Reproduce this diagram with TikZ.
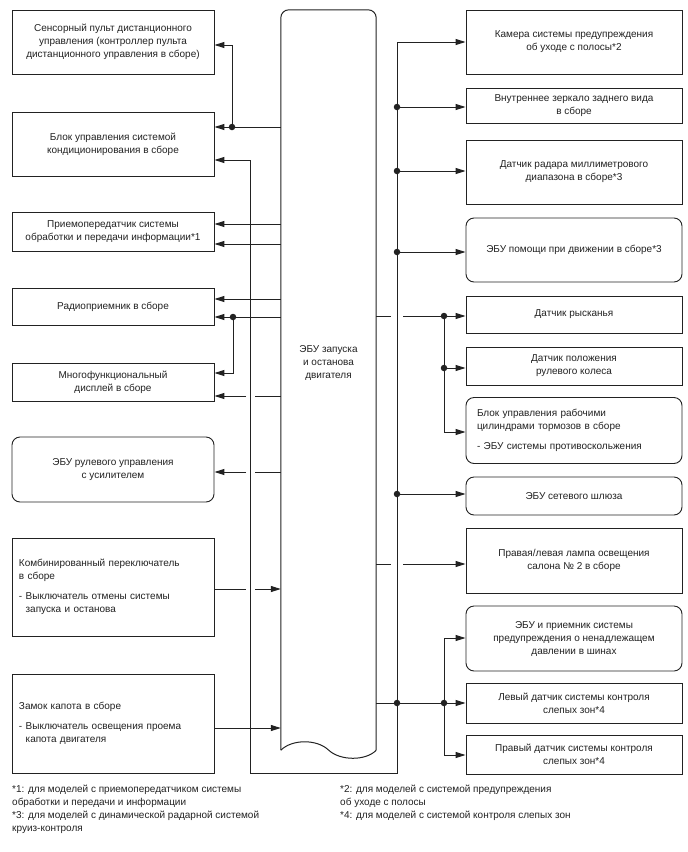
\documentclass[tikz,border=0pt]{standalone}
\usepackage{fontspec}
\setmainfont{Liberation Sans}
\usetikzlibrary{arrows.meta}
\definecolor{ink}{HTML}{222222}
\newcommand{\fsz}{\fontsize{10}{13}\selectfont}
\begin{document}
\begin{tikzpicture}[x=1pt,y=-1pt,
  box/.style={draw=ink, line width=0.9pt, inner sep=0pt, align=center, font=\fsz, text=ink},
  rbox/.style={box, rounded corners=8pt},
  wire/.style={draw=ink, line width=1pt},
  arr/.style={wire, -{Triangle[length=10pt,width=6pt]}},
  dot/.style={circle, fill=ink, inner sep=0pt, minimum size=6.5pt},
  fn/.style={inner sep=0pt, align=left, font=\fsz, text=ink}]
\useasboundingbox (0,0) rectangle (688,852);
\fill[white] (0,0) rectangle (688,852);

% ECU
\node[minimum width=95, minimum height=740, inner sep=0pt] (ecu) at (328.5,380) {};
\draw[wire, rounded corners=8pt] (ecu.south west) -- (ecu.north west) -- (ecu.north east) -- (ecu.south east);
\draw[wire] (ecu.south east) .. controls (366,761) and (340,761) .. (328.5,750) .. controls (317,739) and (292,739) .. (ecu.south west);
\node[box, draw=none] (ecut) at (328.5,363) {ЭБУ запуска\\и останова\\двигателя};

% left boxes
\node[box, minimum width=202, minimum height=64] (b1) at (113,42) {Сенсорный пульт дистанционного\\управления (контроллер пульта\\дистанционного управления в сборе)};
\node[box, minimum width=202, minimum height=64] (b2) at (113,144) {Блок управления системой\\кондиционирования в сборе};
\node[box, minimum width=202, minimum height=39] (b3) at (113,231.5) {Приемопередатчик системы\\обработки и передачи информации*1};
\node[box, minimum width=202, minimum height=37] (b4) at (113,306.5) {Радиоприемник в сборе};
\node[box, minimum width=202, minimum height=38] (b5) at (113,382) {Многофункциональный\\дисплей в сборе};
\node[rbox, minimum width=202, minimum height=65] (b6) at (113,469.5) {ЭБУ рулевого управления\\с усилителем};
\node[box, align=left, text width=188, minimum width=202, minimum height=98] (b7) at (113,587) {Комбинированный переключатель\\в сборе\\[7pt]- Выключатель отмены системы\\\hphantom{- }запуска и останова};
\node[box, align=left, text width=188, minimum width=202, minimum height=99] (b8) at (113,723.5) {Замок капота в сборе\\[7pt]- Выключатель освещения проема\\\hphantom{- }капота двигателя};

% right boxes
\node[box, minimum width=216, minimum height=64] (r1) at (574,42) {Камера системы предупреждения\\об уходе с полосы*2};
\node[box, minimum width=216, minimum height=35] (r2) at (574,105.5) {Внутреннее зеркало заднего вида\\в сборе};
\node[box, minimum width=216, minimum height=64] (r3) at (574,172) {Датчик радара миллиметрового\\диапазона в сборе*3};
\node[rbox, minimum width=216, minimum height=64] (r4) at (574,250) {ЭБУ помощи при движении в сборе*3};
\node[box, minimum width=216, minimum height=37] (r5) at (574,314.5) {Датчик рысканья};
\node[box, minimum width=216, minimum height=38] (r6) at (574,366) {Датчик положения\\рулевого колеса};
\node[rbox, align=left, text width=194, minimum width=216, minimum height=66] (r7) at (574,430.5) {Блок управления рабочими\\цилиндрами тормозов в сборе\\[7pt]- ЭБУ системы противоскольжения};
\node[rbox, minimum width=216, minimum height=38] (r8) at (574,496) {ЭБУ сетевого шлюза};
\node[box, minimum width=216, minimum height=65] (r9) at (574,560.5) {Правая/левая лампа освещения\\салона № 2 в сборе};
\node[rbox, minimum width=216, minimum height=65] (r10) at (574,638.5) {ЭБУ и приемник системы\\предупреждения о ненадлежащем\\давлении в шинах};
\node[box, minimum width=216, minimum height=40] (r11) at (574,703) {Левый датчик системы контроля\\слепых зон*4};
\node[box, minimum width=216, minimum height=39] (r12) at (574,754.5) {Правый датчик системы контроля\\слепых зон*4};

% frame bus
\coordinate (ftl) at (250,160);
\coordinate (fbl) at (250,773);
\coordinate (fbr) at (397,773);
\coordinate (ftr) at (397,42);
\draw[wire, {Triangle[length=10pt,width=6pt]}-{Triangle[length=10pt,width=6pt]}] (b2.east |- ftl) -- (ftl) -- (fbl) -- (fbr) -- (ftr) -- (r1.west |- ftr);

% left connectors
\node[dot] (dl1) at (232,127) {};
\draw[wire] (ecu.west |- dl1) -- (dl1);
\draw[arr] (dl1) -- (b2.east |- dl1);
\draw[arr] (dl1.center) |- (b1.east |- 0,45);
\draw[arr] (ecu.west |- 0,224) -- (b3.east |- 0,224);
\draw[arr] (ecu.west |- 0,244) -- (b3.east |- 0,244);
\draw[arr] (ecu.west |- 0,299) -- (b4.east |- 0,299);
\node[dot] (dl2) at (233,317) {};
\draw[wire] (ecu.west |- dl2) -- (dl2);
\draw[arr] (dl2) -- (b4.east |- dl2);
\draw[arr] (dl2.center) |- (b5.east |- 0,373);
\coordinate (ga1) at (255,396); \coordinate (gb1) at (246,396);
\draw[wire] (ecu.west |- ga1) -- (ga1);
\draw[arr] (gb1) -- (b5.east |- gb1);
\coordinate (ga2) at (255,472); \coordinate (gb2) at (246,472);
\draw[wire] (ecu.west |- ga2) -- (ga2);
\draw[arr] (gb2) -- (b6.east |- gb2);
\coordinate (ga3) at (246,589); \coordinate (gb3) at (255,589);
\draw[wire] (b7.east |- ga3) -- (ga3);
\draw[arr] (gb3) -- (ecu.west |- gb3);
\draw[arr] (b8.east |- 0,728) -- (ecu.west |- 0,728);

% right connectors
\node[dot] (dr1) at (397,107) {};
\draw[arr] (dr1) -- (r2.west |- dr1);
\node[dot] (dr2) at (397,171) {};
\draw[arr] (dr2) -- (r3.west |- dr2);
\node[dot] (dr3) at (397,252) {};
\draw[arr] (dr3) -- (r4.west |- dr3);
\node[dot] (dr4) at (397,494) {};
\draw[arr] (dr4) -- (r8.west |- dr4);
\coordinate (gc1) at (391,316); \coordinate (gd1) at (403,316);
\node[dot] (dr7) at (444,316) {};
\node[dot] (dr8) at (444,368) {};
\draw[wire] (ecu.east |- gc1) -- (gc1);
\draw[wire] (gd1) -- (dr7);
\draw[arr] (dr7) -- (r5.west |- dr7);
\draw[arr] (dr8) -- (r6.west |- dr8);
\draw[arr] (dr7.center) |- (r7.west |- 0,432);
\coordinate (gc2) at (391,564); \coordinate (gd2) at (403,564);
\draw[wire] (ecu.east |- gc2) -- (gc2);
\draw[arr] (gd2) -- (r9.west |- gd2);
\node[dot] (dr5) at (397,703) {};
\node[dot] (dr6) at (444,703) {};
\draw[wire] (ecu.east |- dr5) -- (dr5) -- (dr6);
\draw[arr] (dr6) -- (r11.west |- dr6);
\draw[arr] (dr6.center) |- (r10.west |- 0,638);
\draw[arr] (dr6.center) |- (r12.west |- 0,755);

% footnotes
\node[fn, anchor=north west] (fn1) at (12,785) {*1: для моделей с приемопередатчиком системы\\обработки и передачи и информации\\*3: для моделей с динамической радарной системой\\круиз-контроля};
\node[fn, anchor=north west] (fn2) at (340,785) {*2: для моделей с системой предупреждения\\об уходе с полосы\\*4: для моделей с системой контроля слепых зон};
\end{tikzpicture}
\end{document}
